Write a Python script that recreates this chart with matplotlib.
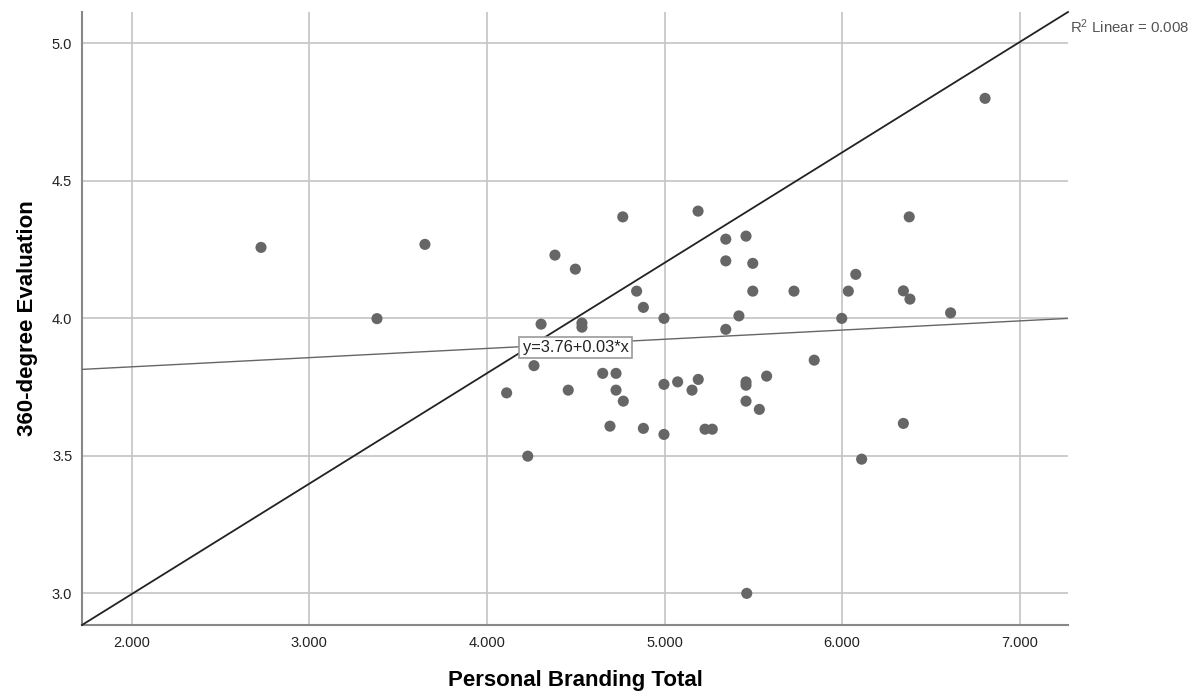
import matplotlib
matplotlib.use("Agg")
import matplotlib.pyplot as plt
import numpy as np

plt.rcParams['font.family'] = ['Liberation Sans', 'DejaVu Sans']
plt.rcParams['mathtext.fontset'] = 'custom'
plt.rcParams['mathtext.rm'] = 'Liberation Sans'
plt.rcParams['mathtext.it'] = 'Liberation Sans'

# Data
branding = [2.728, 3.651, 3.381, 4.765, 5.189, 4.383, 4.498, 4.843, 4.881, 4.997,
            4.305, 4.535, 4.535, 4.265, 4.652, 4.727, 4.111, 4.458, 4.727, 4.768,
            4.997, 5.074, 5.155, 5.190, 4.693, 4.881, 4.997, 4.230, 5.345, 5.459,
            5.345, 5.497, 5.497, 5.729, 6.077, 6.035, 6.345, 6.382, 6.378, 5.419,
            5.345, 5.998, 5.843, 5.459, 5.459, 5.575, 5.459, 5.534, 5.228, 5.269,
            6.345, 6.110, 6.805, 6.611, 5.463]
evaluation = [4.258, 4.269, 3.999, 4.369, 4.390, 4.230, 4.179, 4.099, 4.040, 4.000,
              3.979, 3.983, 3.968, 3.828, 3.800, 3.800, 3.729, 3.739, 3.739, 3.699,
              3.760, 3.769, 3.739, 3.778, 3.608, 3.600, 3.578, 3.499, 4.288, 4.299,
              4.209, 4.200, 4.099, 4.099, 4.160, 4.099, 4.100, 4.070, 4.369, 4.009,
              3.960, 4.000, 3.848, 3.769, 3.757, 3.790, 3.699, 3.669, 3.597, 3.597,
              3.618, 3.488, 4.800, 4.020, 3.000]

fit_intercept = 3.757
fit_slope = 0.0334
fit_label = "y=3.76+0.03*x"
r2_label = r"R$^2$ Linear = 0.008"

x_ticks = [2, 3, 4, 5, 6, 7]
x_ticklabels = ["2.000", "3.000", "4.000", "5.000", "6.000", "7.000"]
y_ticks = [3.0, 3.5, 4.0, 4.5, 5.0]
y_ticklabels = ["3.0", "3.5", "4.0", "4.5", "5.0"]

xlim = (1.720, 7.272)
ylim = (2.885, 5.114)

fig = plt.figure(figsize=(12, 6.97), dpi=100)
ax = fig.add_axes([82/1200, 1 - 625/697, (1068 - 82)/1200, (625 - 12)/697])

ax.set_xlim(*xlim)
ax.set_ylim(*ylim)

ax.set_xticks(x_ticks)
ax.set_xticklabels(x_ticklabels)
ax.set_yticks(y_ticks)
ax.set_yticklabels(y_ticklabels)
ax.tick_params(axis='both', length=0, labelsize=10.5, colors='#222222')
ax.tick_params(axis='x', pad=8)
ax.tick_params(axis='y', pad=7)

ax.grid(True, color='#c4c4c4', linewidth=1.2, zorder=0)
ax.set_axisbelow(True)

for s in ['top', 'right']:
    ax.spines[s].set_visible(False)
for s in ['left', 'bottom']:
    ax.spines[s].set_color('#888888')
    ax.spines[s].set_linewidth(1.5)

# diagonal reference line
ax.plot([0, 1], [0, 1], transform=ax.transAxes, color='#222222', linewidth=1.3, zorder=3, clip_on=False)

# fit line
xs = np.array(xlim)
ax.plot(xs, fit_intercept + fit_slope * xs, color='#666666', linewidth=1.0, zorder=3)

ax.scatter(branding, evaluation, s=64, color='#666666', edgecolors='none', zorder=4)

ax.text(4.499, 3.894, fit_label, fontsize=11.8, ha='center', va='center', color='#222222', zorder=5,
        bbox=dict(boxstyle='square,pad=0.2', facecolor='white', edgecolor='#999999', linewidth=1.2))

ax.text(1.002, 0.9755, r2_label, transform=ax.transAxes, fontsize=10.8, ha='left', va='center',
        color='#555555')

ax.set_xlabel("Personal Branding Total", fontsize=16, fontweight='bold', labelpad=14)
ax.set_ylabel("360-degree Evaluation", fontsize=16, fontweight='bold', labelpad=10)

fig.savefig("out.png", dpi=100)
